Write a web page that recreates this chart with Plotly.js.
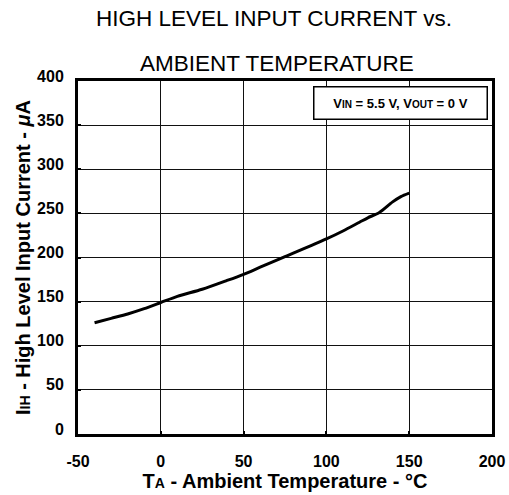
<!DOCTYPE html>
<html>
<head>
<meta charset="utf-8">
<script src="https://cdn.plot.ly/plotly-3.0.1.min.js"></script>
<style>html,body{margin:0;padding:0;background:#fff;}#chart{width:509px;height:495px;}</style>
</head>
<body>
<div id="chart"></div>
<script>
// Data
const temperature = [-40, -30, -20, -10, 0, 10, 25, 40, 50, 60, 75, 80, 90, 100, 110, 120, 125, 132, 140, 145, 150];
const currentUA   = [126, 131, 136, 142, 149, 156, 164, 174, 181, 189, 201, 205, 213, 221, 230, 240, 245, 251, 263, 269, 273];
const xTicks = [-50, 0, 50, 100, 150, 200];
const yTicks = [0, 50, 100, 150, 200, 250, 300, 350, 400];
const titleLine1 = "HIGH LEVEL INPUT CURRENT vs.";
const titleLine2 = "AMBIENT TEMPERATURE";
const conditionText = "V<span style='font-size:10px'>IN</span> = 5.5 V, V<span style='font-size:10px'>OUT</span> = 0 V";

const FONT = "Liberation Sans, Arial, sans-serif";
const trace = {
  x: temperature, y: currentUA, type: 'scatter', mode: 'lines',
  line: {color: '#000', width: 3, shape: 'spline', smoothing: 0.8},
  hoverinfo: 'skip'
};
const axisCommon = {
  showline: true, linecolor: '#000', linewidth: 3, mirror: true,
  showgrid: true, gridcolor: '#111', gridwidth: 1,
  zeroline: false, ticks: 'inside', ticklen: 3, tickcolor: '#000', tickwidth: 2,
  tickfont: {family: FONT, size: 16, color: '#000', weight: 700}
};
const layout = {
  width: 509, height: 495,
  margin: {l: 78, r: 17, t: 81, b: 61},
  paper_bgcolor: '#fff', plot_bgcolor: '#fff',
  showlegend: false,
  title: {text: titleLine1, font: {family: FONT, size: 22.5, color: '#000'},
          x: 274/509, xref: 'container', xanchor: 'center', y: 1 - 18/495, yanchor: 'middle'},
  xaxis: Object.assign({}, axisCommon, {
    range: [-50, 200], tickvals: xTicks, ticktext: xTicks.map(String),
    ticklabelstandoff: 11,
    title: {text: "T<span style='font-size:14px'>A</span> - Ambient Temperature - °C",
            font: {family: FONT, size: 20, color: '#000', weight: 700}, standoff: 0}
  }),
  yaxis: Object.assign({}, axisCommon, {
    range: [0, 400], tickvals: yTicks, ticktext: yTicks.map(String),
    ticklabelstandoff: 8, ticklabelshift: -5,
    title: {text: "I<span style='font-size:14px'>IH</span> - High Level Input Current - <i>μ</i>A",
            font: {family: FONT, size: 20, color: '#000', weight: 700}, standoff: 2}
  }),
  annotations: [
    {text: titleLine2, xref: 'paper', yref: 'paper', x: (277-78)/414, y: 1 + (81-64)/353,
     xanchor: 'center', yanchor: 'middle', showarrow: false,
     font: {family: FONT, size: 22.5, color: '#000'}},
    {text: conditionText, xref: 'paper', yref: 'paper',
     x: (400-78)/414, y: 1 - (103.5-81)/353, xanchor: 'center', yanchor: 'middle', showarrow: false,
     font: {family: FONT, size: 13, color: '#000', weight: 700}, bgcolor: '#fff', bordercolor: '#000', borderwidth: 1.5,
     borderpad: 8, width: 156}
  ]
};
Plotly.newPlot('chart', [trace], layout, {staticPlot: true, displayModeBar: false});
</script>
</body>
</html>
